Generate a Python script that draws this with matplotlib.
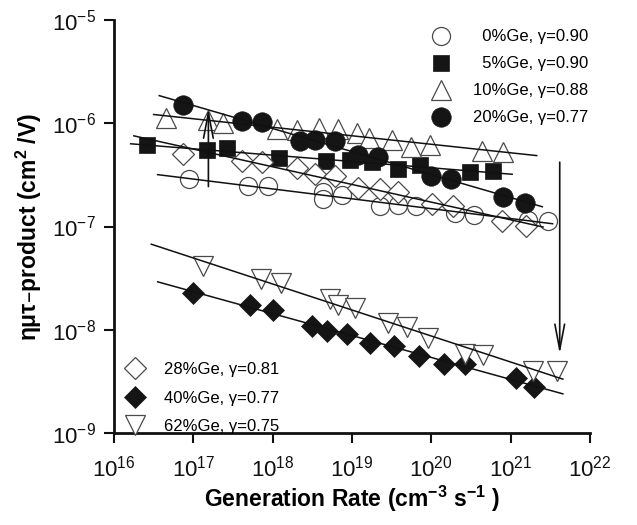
import numpy as np
import matplotlib.pyplot as plt
from matplotlib.lines import Line2D

plt.rcParams['font.family'] = ['Liberation Sans', 'DejaVu Sans']
plt.rcParams['mathtext.default'] = 'regular'
plt.rcParams['axes.unicode_minus'] = False

# values, as log10 of generation rate / log10 of mu-tau
ge0_x = [16.94, 17.69, 17.94, 18.63, 18.63, 18.88, 19.36, 19.58, 19.81, 20.30, 20.54, 21.22, 21.47]
ge0_y = [-6.54, -6.61, -6.61, -6.67, -6.73, -6.69, -6.80, -6.79, -6.80, -6.87, -6.89, -6.94, -6.95]

ge5_x = [16.42, 17.17, 17.43, 18.08, 18.67, 18.98, 19.25, 19.58, 19.86, 20.49, 20.78]
ge5_y = [-6.21, -6.26, -6.24, -6.34, -6.37, -6.36, -6.38, -6.44, -6.40, -6.47, -6.46]

ge10_x = [16.65, 17.19, 17.38, 18.06, 18.31, 18.59, 18.82, 19.07, 19.22, 19.51, 19.74, 19.99, 20.64, 20.91]
ge10_y = [-5.95, -5.97, -6.00, -6.06, -6.07, -6.05, -6.06, -6.09, -6.14, -6.16, -6.23, -6.21, -6.27, -6.28]

ge20_x = [16.87, 17.62, 17.87, 18.34, 18.54, 18.79, 19.08, 19.33, 20.00, 20.25, 20.91, 21.18]
ge20_y = [-5.82, -5.98, -5.99, -6.17, -6.16, -6.17, -6.31, -6.33, -6.51, -6.54, -6.71, -6.77]

ge28_x = [16.87, 17.62, 17.87, 18.31, 18.54, 18.79, 19.08, 19.36, 19.58, 20.01, 20.28, 20.89, 21.19]
ge28_y = [-6.30, -6.37, -6.38, -6.43, -6.49, -6.51, -6.63, -6.64, -6.67, -6.78, -6.80, -6.95, -6.99]

ge40_x = [16.99, 17.72, 18.00, 18.50, 18.69, 18.94, 19.23, 19.53, 19.84, 20.16, 20.43, 21.07, 21.30]
ge40_y = [-7.64, -7.76, -7.81, -7.96, -8.01, -8.04, -8.13, -8.16, -8.25, -8.33, -8.33, -8.47, -8.55]

ge62_x = [17.12, 17.85, 18.11, 18.72, 18.82, 19.04, 19.46, 19.70, 19.96, 20.42, 20.65, 21.28, 21.58]
ge62_y = [-7.38, -7.51, -7.55, -7.70, -7.76, -7.79, -7.93, -7.97, -8.08, -8.23, -8.24, -8.40, -8.40]

labels = ['  0%Ge, γ=0.90', '  5%Ge, γ=0.90', '10%Ge, γ=0.88', '20%Ge, γ=0.77',
          '28%Ge, γ=0.81', '40%Ge, γ=0.77', '62%Ge, γ=0.75']

# x extent (log10) of each fitted line
fit_range = [(16.55, 21.53), (16.21, 21.02), (16.50, 21.33), (16.57, 21.40),
             (16.25, 21.41), (16.55, 21.66), (16.47, 21.66)]

series = [(ge0_x, ge0_y), (ge5_x, ge5_y), (ge10_x, ge10_y), (ge20_x, ge20_y),
          (ge28_x, ge28_y), (ge40_x, ge40_y), (ge62_x, ge62_y)]

open_c = '#4a4a4a'
fill_c = '#151515'
styles = [
    dict(marker='o', ms=13, mfc='white', mec=open_c, mew=0.9),
    dict(marker='s', ms=12, mfc=fill_c, mec=fill_c, mew=0.5),
    dict(marker='^', ms=14, mfc='white', mec=open_c, mew=0.9),
    dict(marker='o', ms=14, mfc=fill_c, mec=fill_c, mew=0.5),
    dict(marker='D', ms=11, mfc='white', mec=open_c, mew=0.9),
    dict(marker='D', ms=11, mfc=fill_c, mec=fill_c, mew=0.5),
    dict(marker='v', ms=14, mfc='white', mec=open_c, mew=0.9),
]

fig = plt.figure(figsize=(6.37, 5.25), dpi=100)
ax = fig.add_axes([0.179, 0.175, 0.747, 0.787])

for (xs, ys), st, (x0, x1) in zip(series, styles, fit_range):
    xs = np.array(xs)
    ys = np.array(ys)
    ax.plot(10 ** xs, 10 ** ys, ls='none', zorder=3, **st)
    k, b = np.polyfit(xs, ys, 1)
    fx = np.array([x0, x1])
    ax.plot(10 ** fx, 10 ** (k * fx + b), color='#111111', lw=1.1, zorder=4)

# arrows
arr = dict(arrowstyle='->,head_length=1.3,head_width=0.25', color='#111111', lw=1.2, mutation_scale=14)
ax.annotate('', xy=(10 ** 17.19, 10 ** -5.83), xytext=(10 ** 17.19, 10 ** -6.64), arrowprops=arr, zorder=5)
ax.annotate('', xy=(10 ** 21.62, 10 ** -8.26), xytext=(10 ** 21.62, 10 ** -6.35), arrowprops=arr, zorder=5)

ax.set_xscale('log')
ax.set_yscale('log')
ax.set_xlim(1e16, 1e22)
ax.set_ylim(1e-9, 1e-5)
ax.set_xticks([10.0 ** e for e in range(16, 23)])
ax.set_yticks([10.0 ** e for e in range(-9, -4)])
ax.xaxis.set_major_formatter(plt.FuncFormatter(lambda v, p: r'$10^{%d}$' % round(np.log10(v))))
ax.yaxis.set_major_formatter(plt.FuncFormatter(lambda v, p: r'$10^{%d}$' % round(np.log10(v))))
ax.minorticks_off()
ax.tick_params(which='major', direction='out', length=7, width=1.5, labelsize=16, pad=6, colors='#111111')
ax.tick_params(axis='x', pad=9)

for s in ['top', 'right']:
    ax.spines[s].set_visible(False)
for s in ['left', 'bottom']:
    ax.spines[s].set_linewidth(2)
    ax.spines[s].set_color('#111111')

ax.set_xlabel('Generation Rate (cm$^{-3}$ s$^{-1}$ )', fontsize=16.5, fontweight='bold', labelpad=2)
ax.set_ylabel('ημτ–product (cm$^{2}$ /V)', fontsize=16.5, fontweight='bold', labelpad=6)

handles = [Line2D([], [], ls='none', **st) for st in styles]
leg1 = ax.legend(handles[:4], labels[:4], loc='upper left', bbox_to_anchor=(0.655, 0.985),
                 frameon=False, fontsize=12, handlelength=1.4, handletextpad=1.25,
                 labelspacing=0.72, borderpad=0.2, borderaxespad=0)
ax.add_artist(leg1)
ax.legend(handles[4:], labels[4:], loc='lower left', bbox_to_anchor=(0.01, -0.015),
          frameon=False, fontsize=12, handlelength=1.4, handletextpad=1.0,
          labelspacing=0.82, borderpad=0.2, borderaxespad=0.1)

fig.savefig('out.png', dpi=100)
